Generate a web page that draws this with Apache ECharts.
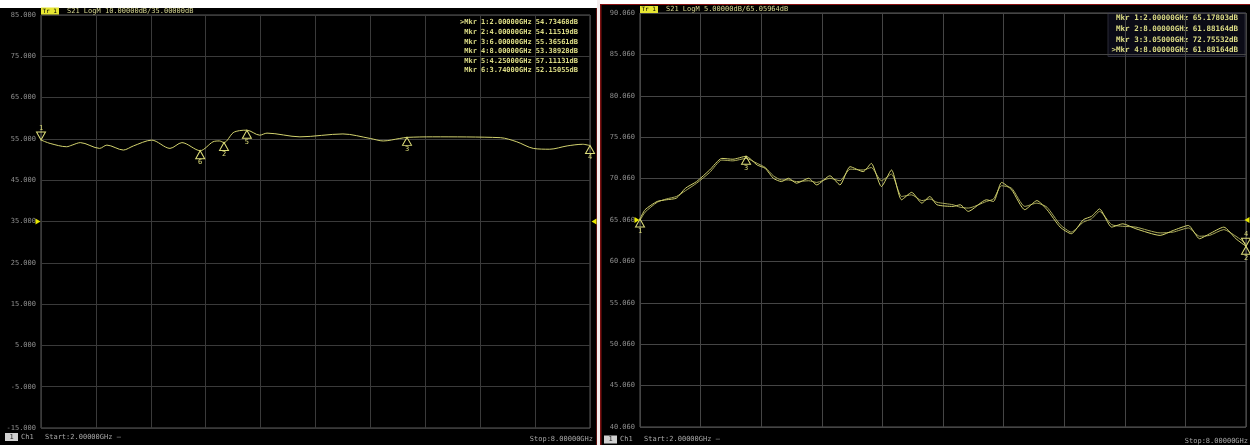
<!DOCTYPE html>
<html>
<head>
<meta charset="utf-8">
<script src="https://cdn.jsdelivr.net/npm/echarts@6/dist/echarts.min.js"></script>
<style>
  html, body { margin: 0; padding: 0; background: #000; }
  #chart { width: 1250px; height: 445px; }
</style>
</head>
<body>
<div id="chart"></div>
<script>
// ---- Left analyzer screen: S21 LogM, 10 dB/div, ref 35 dB ----
const leftFreq = [2.00, 2.10, 2.28, 2.34, 2.43, 2.64, 2.72, 2.90, 3.01, 3.21, 3.41, 3.54, 3.74, 3.88, 3.95, 4.00, 4.10, 4.17, 4.25, 4.39, 4.47, 4.83, 5.30, 5.60, 5.74, 5.92, 6.00, 6.28, 7.02, 7.20, 7.38, 7.56, 7.75, 7.92, 8.00];
const leftDb   = [54.73468, 53.9, 53.1, 53.5, 54.1, 52.7, 53.5, 52.3, 53.3, 54.7, 52.7, 54.1, 52.15055, 54.3, 54.5, 54.11519, 56.5, 57.0, 57.11131, 55.9, 56.4, 55.5, 56.2, 55.1, 54.5, 55.1, 55.36561, 55.5, 55.3, 54.3, 52.7, 52.5, 53.3, 53.7, 53.38928];
const leftYLabels = ['-15.000', '-5.000', '5.000', '15.000', '25.000', '35.000', '45.000', '55.000', '65.000', '75.000', '85.000'];
const leftMarkers = [
  { id: '1', f: 2.0,  db: 54.73468, active: true },
  { id: '2', f: 4.0,  db: 54.11519 },
  { id: '3', f: 6.0,  db: 55.36561 },
  { id: '4', f: 8.0,  db: 53.38928 },
  { id: '5', f: 4.25, db: 57.11131 },
  { id: '6', f: 3.74, db: 52.15055 }
];
const leftReadout = [
  '>Mkr 1:2.00000GHz 54.73468dB',
  'Mkr 2:4.00000GHz 54.11519dB',
  'Mkr 3:6.00000GHz 55.36561dB',
  'Mkr 4:8.00000GHz 53.38928dB',
  'Mkr 5:4.25000GHz 57.11131dB',
  'Mkr 6:3.74000GHz 52.15055dB'
];
const leftRef = 35;

// ---- Right analyzer screen: S21 LogM, 5 dB/div, ref 65.05964 dB ----
const rightFreq = [2.00, 2.05, 2.17, 2.26, 2.36, 2.45, 2.56, 2.69, 2.81, 2.92, 3.05, 3.16, 3.24, 3.32, 3.40, 3.47, 3.55, 3.67, 3.75, 3.88, 3.98, 4.08, 4.21, 4.29, 4.39, 4.49, 4.59, 4.69, 4.79, 4.87, 4.94, 5.10, 5.17, 5.25, 5.43, 5.50, 5.58, 5.68, 5.81, 5.93, 6.03, 6.16, 6.27, 6.39, 6.47, 6.55, 6.67, 6.78, 6.91, 7.15, 7.28, 7.43, 7.54, 7.64, 7.78, 7.90, 8.00];
const rightDbA = [65.17803, 66.3, 67.3, 67.5, 67.7, 68.9, 69.7, 71.1, 72.5, 72.4, 72.75532, 71.7, 71.3, 70.1, 69.7, 70.1, 69.5, 70.1, 69.3, 70.4, 69.3, 71.5, 70.9, 71.9, 69.1, 71.1, 67.5, 68.4, 67.1, 67.9, 66.9, 66.7, 66.9, 66.1, 67.5, 67.3, 69.6, 68.7, 66.3, 67.4, 66.3, 64.2, 63.4, 65.1, 65.5, 66.4, 64.2, 64.6, 64.0, 63.2, 63.8, 64.4, 62.8, 63.4, 64.2, 62.8, 61.88164];
const rightDbB = [65.0, 66.0, 67.2, 67.6, 67.9, 68.6, 69.5, 70.8, 72.3, 72.2, 72.5, 71.9, 71.4, 70.4, 69.9, 69.9, 69.7, 69.8, 69.6, 70.1, 69.8, 71.2, 71.1, 71.4, 69.8, 70.6, 67.9, 68.1, 67.4, 67.6, 67.2, 66.9, 66.6, 66.5, 67.3, 67.6, 69.2, 68.9, 66.7, 67.1, 66.6, 64.5, 63.6, 64.8, 65.2, 66.1, 64.5, 64.3, 64.2, 63.5, 63.6, 64.1, 63.1, 63.2, 63.9, 63.1, 62.2];
const rightYLabels = ['40.060', '45.060', '50.060', '55.060', '60.060', '65.060', '70.060', '75.060', '80.060', '85.060', '90.060'];
const rightMarkers = [
  { id: '1', f: 2.0,  db: 65.17803 },
  { id: '2', f: 8.0,  db: 61.88164 },
  { id: '3', f: 3.05, db: 72.75532 },
  { id: '4', f: 8.0,  db: 61.88164, active: true }
];
const rightReadout = [
  'Mkr 1:2.00000GHz 65.17803dB',
  'Mkr 2:8.00000GHz 61.88164dB',
  'Mkr 3:3.05000GHz 72.75532dB',
  '>Mkr 4:8.00000GHz 61.88164dB'
];
const rightRef = 65.05964;

const xDivisions = ['', '', '', '', '', '', '', '', '', '', ''];

const FONT = 'DejaVu Sans Mono';
const TRACE = '#d2d26e';
const TRACE_B = '#a9a95a';
const MARK = '#dede7a';
const GRID_L = '#3a3a3a';
const GRID_R = '#454545';
const LABEL = '#8e8e8e';

const UP = 'path://M5,0 L10,9 L0,9 Z';
const DOWN = 'path://M0,0 L10,0 L5,9 Z';
const RIGHT_TRI = 'path://M0,0 L8,5 L0,10 Z';
const LEFT_TRI = 'path://M8,0 L0,5 L8,10 Z';

function markerPoints(list) {
  return list.map(m => ({
    coord: [m.f, m.db],
    symbol: m.active ? DOWN : UP,
    symbolSize: [9, 8],
    symbolOffset: m.active ? [0, -4] : [0, 4],
    itemStyle: { color: 'rgba(0,0,0,0)', borderColor: MARK, borderWidth: 1 },
    label: {
      show: true, formatter: m.id, color: MARK, fontFamily: FONT, fontSize: 7,
      position: m.active ? 'top' : 'bottom', distance: 0
    }
  }));
}

function refPoints(ref, xMin, xMax, rightShift) {
  return [
    { coord: [xMin, ref], symbol: RIGHT_TRI, symbolSize: [5, 6], symbolOffset: [-3, 0],
      itemStyle: { color: '#e8e800' }, label: { show: false } },
    { coord: [xMax, ref], symbol: LEFT_TRI, symbolSize: [5, 6], symbolOffset: [rightShift, 0],
      itemStyle: { color: '#e8e800' }, label: { show: false } }
  ];
}

function gridAxes(gridIndex, labels, gridColor) {
  return {
    x: [
      { gridIndex, type: 'value', min: 2, max: 8, show: false, position: 'top' },
      { gridIndex, type: 'category', data: xDivisions, boundaryGap: false, position: 'bottom',
        axisLine: { show: false }, axisTick: { show: false }, axisLabel: { show: false },
        splitLine: { show: true, lineStyle: { color: gridColor, width: 1 } } }
    ],
    y: (min, max) => [
      { gridIndex, type: 'value', min, max, show: false, position: 'right' },
      { gridIndex, type: 'category', data: labels, boundaryGap: false, position: 'left',
        axisLine: { show: false }, axisTick: { show: false },
        axisLabel: { show: true, interval: 0, color: LABEL, fontFamily: FONT, fontSize: 7, margin: 5 },
        splitLine: { show: true, lineStyle: { color: gridColor, width: 1 } } }
    ]
  };
}

const axL = gridAxes(0, leftYLabels, GRID_L);
const axR = gridAxes(1, rightYLabels, GRID_R);

const graphics = [];
// frame details around the two screens
graphics.push({ type: 'rect', shape: { x: 0, y: 0, width: 600, height: 8 }, style: { fill: '#ffffff' }, silent: true });
graphics.push({ type: 'rect', shape: { x: 600, y: 0, width: 650, height: 4 }, style: { fill: '#ffffff' }, silent: true });
graphics.push({ type: 'rect', shape: { x: 597, y: 0, width: 3, height: 445 }, style: { fill: '#f4eeee' }, silent: true });
graphics.push({ type: 'rect', shape: { x: 600, y: 4, width: 650, height: 1 }, style: { fill: '#8a1010' }, silent: true });
graphics.push({ type: 'rect', shape: { x: 600, y: 4, width: 1.5, height: 441 }, style: { fill: '#7a1010' }, silent: true });
graphics.push({ type: 'rect', shape: { x: 596, y: 8, width: 1, height: 437 }, style: { fill: '#5a1010' }, silent: true });

// headers
function header(x, y, text) {
  graphics.push({ type: 'rect', shape: { x: x, y: y - 3.5, width: 18, height: 7 }, style: { fill: '#e6e632' }, silent: true });
  graphics.push({ type: 'text', x: x + 1.5, y: y, style: { text: 'Tr 1', fill: '#000', font: '6px ' + FONT, textVerticalAlign: 'middle' }, silent: true });
  graphics.push({ type: 'text', x: x + 26, y: y, style: { text: text, fill: '#d6d690', font: '7px ' + FONT, textVerticalAlign: 'middle' }, silent: true });
}
header(41, 11, 'S21 LogM 10.00000dB/35.00000dB');
header(640, 9.5, 'S21 LogM 5.00000dB/65.05964dB');

// marker readouts
leftReadout.forEach((t, i) => {
  graphics.push({ type: 'text', x: 578, y: 22.5 + i * 9.6, style: { text: t, fill: '#dede86', font: 'bold 7px ' + FONT, textAlign: 'right', textVerticalAlign: 'middle' }, silent: true });
});
graphics.push({ type: 'rect', shape: { x: 1108, y: 12.5, width: 137, height: 44 }, style: { fill: '#0b0b16', stroke: '#2a2a36', lineWidth: 1 }, silent: true });
rightReadout.forEach((t, i) => {
  graphics.push({ type: 'text', x: 1238, y: 18.5 + i * 10.6, style: { text: t, fill: '#dede86', font: 'bold 7.5px ' + FONT, textAlign: 'right', textVerticalAlign: 'middle' }, silent: true });
});

// bottom status bars
function statusBar(x0, y, stopX) {
  graphics.push({ type: 'rect', shape: { x: x0, y: y - 4, width: 13, height: 8 }, style: { fill: '#d0d0d0' }, silent: true });
  graphics.push({ type: 'text', x: x0 + 4.5, y: y, style: { text: '1', fill: '#222', font: '7px ' + FONT, textVerticalAlign: 'middle' }, silent: true });
  graphics.push({ type: 'text', x: x0 + 16, y: y, style: { text: 'Ch1', fill: '#a8a8a8', font: '7px ' + FONT, textVerticalAlign: 'middle' }, silent: true });
  graphics.push({ type: 'text', x: x0 + 40, y: y, style: { text: 'Start:2.00000GHz \u2014', fill: '#a8a8a8', font: '7px ' + FONT, textVerticalAlign: 'middle' }, silent: true });
  graphics.push({ type: 'text', x: stopX, y: y + 2, style: { text: 'Stop:8.00000GHz', fill: '#a8a8a8', font: '7px ' + FONT, textAlign: 'right', textVerticalAlign: 'middle' }, silent: true });
}
statusBar(5, 437, 593);
statusBar(604, 439.5, 1248);

const option = {
  backgroundColor: '#000',
  animation: false,
  grid: [
    { left: 41, top: 15, width: 549, height: 413, show: true, borderColor: '#5a5a5a', borderWidth: 1, backgroundColor: 'transparent' },
    { left: 640, top: 13, width: 606, height: 414, show: true, borderColor: '#5a5a5a', borderWidth: 1, backgroundColor: 'transparent' }
  ],
  xAxis: [...axL.x, ...axR.x],
  yAxis: [...axL.y(-15, 85), ...axR.y(40.06, 90.06)],
  series: [
    {
      type: 'line', xAxisIndex: 0, yAxisIndex: 0,
      data: leftFreq.map((f, i) => [f, leftDb[i]]),
      showSymbol: false, smooth: 0.3,
      lineStyle: { color: TRACE, width: 1 },
      markPoint: { data: [...markerPoints(leftMarkers), ...refPoints(leftRef, 2, 8, 4)] },
      z: 3
    },
    {
      type: 'line', xAxisIndex: 2, yAxisIndex: 2,
      data: rightFreq.map((f, i) => [f, rightDbB[i]]),
      showSymbol: false, smooth: 0.2,
      lineStyle: { color: TRACE_B, width: 1 },
      z: 2
    },
    {
      type: 'line', xAxisIndex: 2, yAxisIndex: 2,
      data: rightFreq.map((f, i) => [f, rightDbA[i]]),
      showSymbol: false, smooth: 0.2,
      lineStyle: { color: TRACE, width: 1 },
      markPoint: { data: [...markerPoints(rightMarkers), ...refPoints(rightRef, 2, 8, 1)] },
      z: 3
    }
  ],
  graphic: graphics
};

const chart = echarts.init(document.getElementById('chart'), null, { renderer: 'canvas' });
chart.setOption(option);
</script>
</body>
</html>
